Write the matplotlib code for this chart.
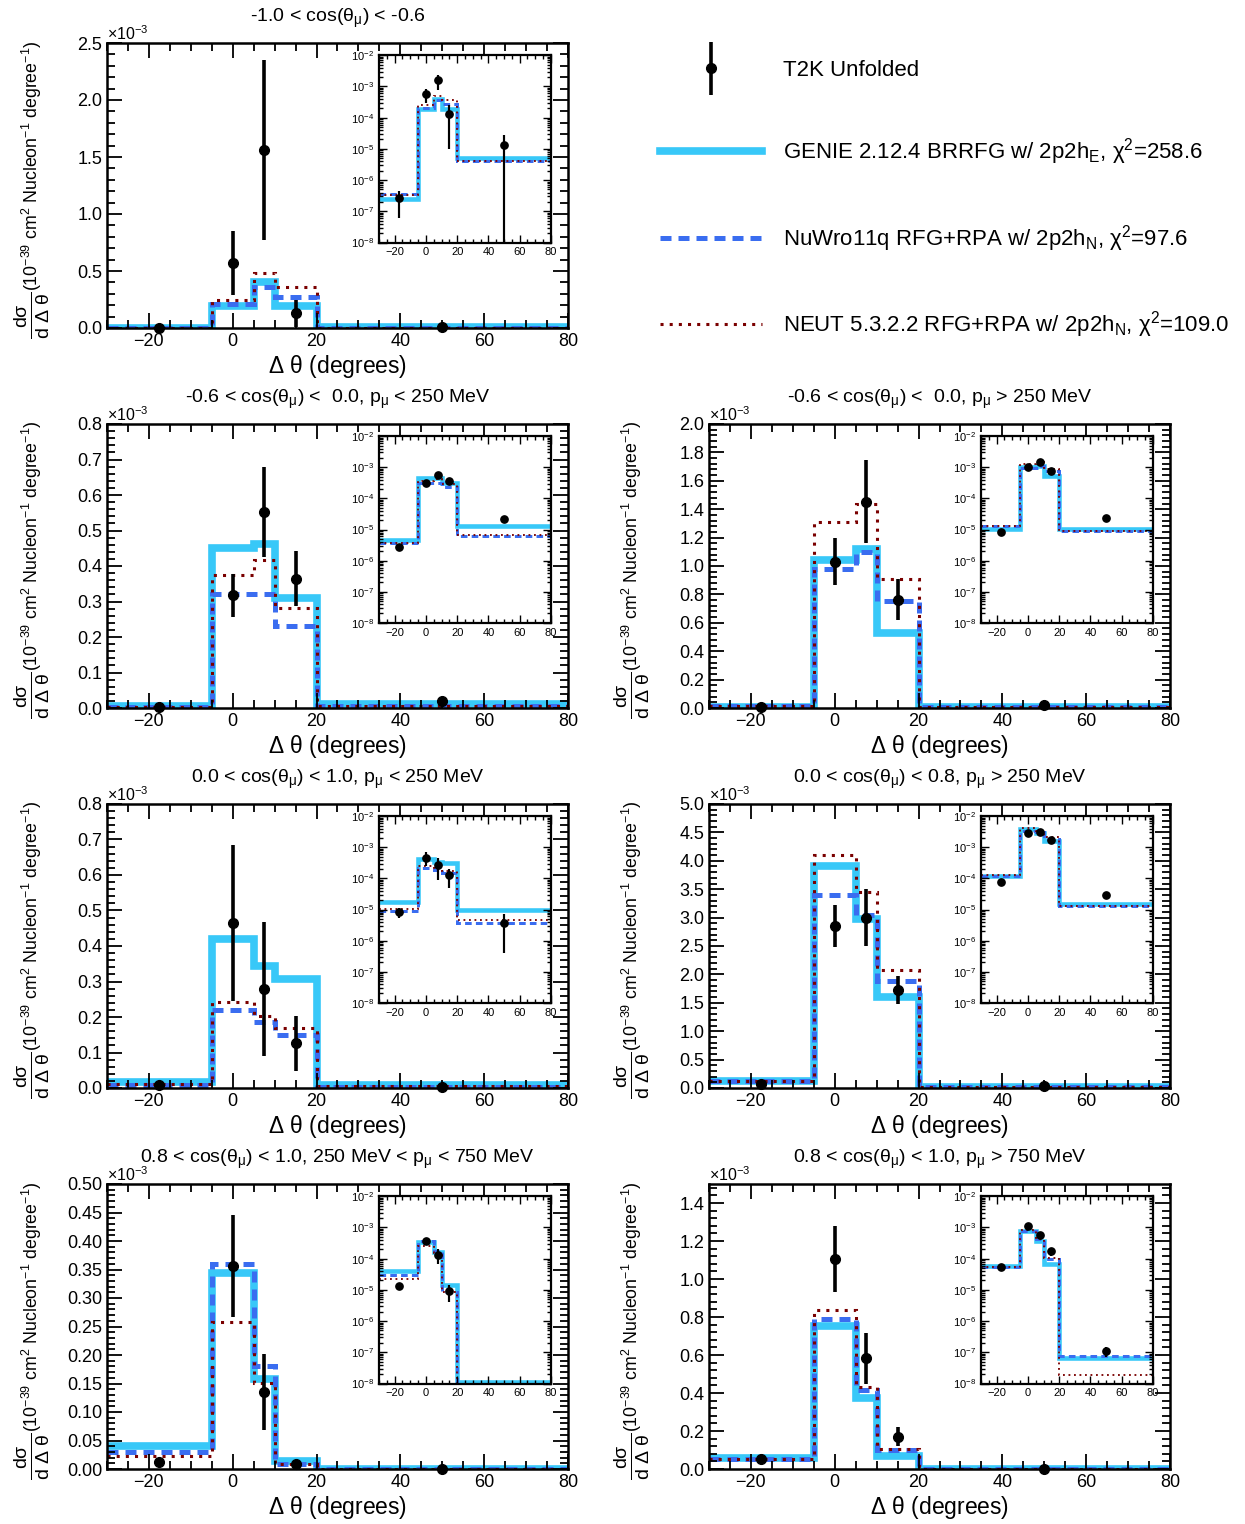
import matplotlib
matplotlib.use('Agg')
import matplotlib.pyplot as plt
from matplotlib.ticker import MultipleLocator, AutoMinorLocator, FormatStrFormatter, LogLocator, NullFormatter
from matplotlib.legend_handler import HandlerErrorbar
import numpy as np

plt.rcParams['font.family'] = ['Liberation Sans', 'DejaVu Sans']
plt.rcParams['mathtext.fontset'] = 'custom'
plt.rcParams['mathtext.rm'] = 'Liberation Sans'
plt.rcParams['mathtext.it'] = 'Liberation Sans:italic'
plt.rcParams['mathtext.bf'] = 'Liberation Sans:bold'
plt.rcParams['mathtext.default'] = 'regular'

# Bin edges and bin centres in delta theta (degrees)
edges = [-30, -5, 5, 10, 20, 80]
centres = [-17.5, 0, 7.5, 15, 50]

# Cross sections in units of 1e-42 cm^2 / nucleon / degree (the "x10^-3" axes)
genie_1 = [0.00025, 0.19, 0.40, 0.19, 0.005]
nuwro_1 = [0.00035, 0.21, 0.36, 0.27, 0.004]
neut_1 = [0.00033, 0.25, 0.48, 0.36, 0.004]
data_1 = [0.00026, 0.57, 1.56, 0.13, 0.013]
err_1 = [0.0002, 0.28, 0.79, 0.12, 0.014]

genie_2 = [0.0045, 0.452, 0.463, 0.309, 0.0126]
nuwro_2 = [0.0036, 0.32, 0.32, 0.23, 0.0064]
neut_2 = [0.0037, 0.375, 0.416, 0.282, 0.0066]
data_2 = [0.0027, 0.317, 0.551, 0.364, 0.021]
err_2 = [0.0003, 0.06, 0.127, 0.078, 0.002]

genie_3 = [0.0105, 1.04, 1.118, 0.525, 0.0105]
nuwro_3 = [0.0126, 0.98, 1.10, 0.753, 0.0089]
neut_3 = [0.0126, 1.313, 1.435, 0.91, 0.0089]
data_3 = [0.0083, 1.03, 1.454, 0.762, 0.023]
err_3 = [0.001, 0.165, 0.29, 0.145, 0.002]

genie_4 = [0.018, 0.419, 0.345, 0.307, 0.0093]
nuwro_4 = [0.0087, 0.22, 0.187, 0.149, 0.0036]
neut_4 = [0.0107, 0.243, 0.203, 0.168, 0.0045]
data_4 = [0.0083, 0.464, 0.279, 0.126, 0.0037]
err_4 = [0.003, 0.22, 0.19, 0.078, 0.0033]

genie_5 = [0.12, 3.91, 2.98, 1.60, 0.0148]
nuwro_5 = [0.12, 3.40, 3.05, 1.88, 0.0126]
neut_5 = [0.125, 4.10, 3.45, 2.08, 0.0126]
data_5 = [0.078, 2.85, 3.0, 1.73, 0.030]
err_5 = [0.005, 0.37, 0.5, 0.25, 0.002]

genie_6 = [0.040, 0.344, 0.158, 0.014, 0.000011]
nuwro_6 = [0.029, 0.36, 0.18, 0.0085, 0.0]
neut_6 = [0.023, 0.258, 0.151, 0.0085, 0.0]
data_6 = [0.013, 0.356, 0.135, 0.009, 0.0]
err_6 = [0.001, 0.09, 0.066, 0.005, 0.0]

genie_7 = [0.06, 0.754, 0.372, 0.068, 0.000065]
nuwro_7 = [0.053, 0.79, 0.416, 0.10, 0.000077]
neut_7 = [0.053, 0.837, 0.43, 0.104, 0.000019]
data_7 = [0.053, 1.105, 0.582, 0.17, 0.00011]
err_7 = [0.003, 0.175, 0.135, 0.05, 0.00004]

titles = [
    r'-1.0 < cos($\theta_{\mu}$) < -0.6',
    r'-0.6 < cos($\theta_{\mu}$) <  0.0, p$_{\mu}$ < 250 MeV',
    r'-0.6 < cos($\theta_{\mu}$) <  0.0, p$_{\mu}$ > 250 MeV',
    r'0.0 < cos($\theta_{\mu}$) < 1.0, p$_{\mu}$ < 250 MeV',
    r'0.0 < cos($\theta_{\mu}$) < 0.8, p$_{\mu}$ > 250 MeV',
    r'0.8 < cos($\theta_{\mu}$) < 1.0, 250 MeV < p$_{\mu}$ < 750 MeV',
    r'0.8 < cos($\theta_{\mu}$) < 1.0, p$_{\mu}$ > 750 MeV',
]
ymaxes = [2.5, 0.8, 2.0, 0.8, 5.0, 0.5, 1.5]
ymajors = [0.5, 0.1, 0.2, 0.1, 0.5, 0.05, 0.2]
yfmts = ['%.1f', '%.1f', '%.1f', '%.1f', '%.1f', '%.2f', '%.1f']

legend_labels = [
    'T2K Unfolded',
    r'GENIE 2.12.4 BRRFG w/ 2p2h$_{E}$, $\chi^{2}$=258.6',
    r'NuWro11q RFG+RPA w/ 2p2h$_{N}$, $\chi^{2}$=97.6',
    r'NEUT 5.3.2.2 RFG+RPA w/ 2p2h$_{N}$, $\chi^{2}$=109.0',
]

panels = [
    (genie_1, nuwro_1, neut_1, data_1, err_1),
    (genie_2, nuwro_2, neut_2, data_2, err_2),
    (genie_3, nuwro_3, neut_3, data_3, err_3),
    (genie_4, nuwro_4, neut_4, data_4, err_4),
    (genie_5, nuwro_5, neut_5, data_5, err_5),
    (genie_6, nuwro_6, neut_6, data_6, err_6),
    (genie_7, nuwro_7, neut_7, data_7, err_7),
]

CYAN = '#38c8f8'
BLUE = '#3a6df0'
MAROON = '#7a0000'

W, H = 1245, 1524
fig = plt.figure(figsize=(W / 100, H / 100), dpi=100)

# axes boxes in pixels: (left, right) and (top, bottom)
col_x = [(107, 568), (709, 1170)]
row_y = [(43, 328), (424, 708), (804, 1088), (1184, 1469)]
slots = [(0, 0), (1, 0), (1, 1), (2, 0), (2, 1), (3, 0), (3, 1)]

yfrac = r'$\frac{d\sigma}{d\ \Delta\ \theta}$'
yunits = r'(10$^{-39}$ cm$^{2}$ Nucleon$^{-1}$ degree$^{-1}$)'


def draw_hists(ax, genie, nuwro, neut, data, err, scale=1.0, inset=False):
    lw = 0.6 if inset else 1.0
    h1 = ax.stairs(np.array(genie) * scale, edges, color=CYAN, lw=5.5 * lw,
                   baseline=None)
    h2 = ax.stairs(np.array(nuwro) * scale, edges, color=BLUE, lw=3.6 * lw,
                   baseline=None, linestyle=(0, (2.2, 1.4)))
    h3 = ax.stairs(np.array(neut) * scale, edges, color=MAROON, lw=2.2 * lw,
                   baseline=None, linestyle=(0, (1, 2)))
    eb = ax.errorbar(centres, np.array(data) * scale,
                     yerr=np.array(err) * scale, fmt='o', color='black',
                     ms=7 * (0.75 if inset else 1.0), elinewidth=2.6 * lw,
                     capsize=0, zorder=5)
    if not inset:
        eb.lines[0].set_clip_on(False)
    return eb, h1, h2, h3


handles = None
for i, (row, col) in enumerate(slots):
    genie, nuwro, neut, data, err = panels[i]
    x0, x1 = col_x[col]
    y0, y1 = row_y[row]
    ax = fig.add_axes([x0 / W, 1 - y1 / H, (x1 - x0) / W, (y1 - y0) / H])
    hs = draw_hists(ax, genie, nuwro, neut, data, err)
    if handles is None:
        handles = list(hs)

    ax.set_xlim(-30, 80)
    ax.set_ylim(0, ymaxes[i])
    ax.xaxis.set_major_locator(MultipleLocator(20))
    ax.xaxis.set_minor_locator(MultipleLocator(5))
    ax.yaxis.set_major_locator(MultipleLocator(ymajors[i]))
    ax.yaxis.set_minor_locator(AutoMinorLocator(5))
    ax.yaxis.set_major_formatter(FormatStrFormatter(yfmts[i]))
    ax.tick_params(which='both', direction='in', top=True, right=True,
                   labelsize=13, width=1.3)
    ax.tick_params(which='major', length=11)
    ax.tick_params(which='minor', length=6)
    for s in ax.spines.values():
        s.set_linewidth(1.8)
    ax.set_title(titles[i], fontsize=14, pad=15)
    ax.set_xlabel(r'$\Delta$ $\theta$ (degrees)', fontsize=16.5, labelpad=2)
    xl = -0.163 if col == 0 else -0.167
    ax.text(xl, -0.04, yfrac, rotation=90, fontsize=20, ha='center',
            va='bottom', transform=ax.transAxes)
    ax.text(xl, 0.13, yunits, rotation=90, fontsize=12.8, ha='center',
            va='bottom', transform=ax.transAxes)
    ax.text(0, 1.0, r'$\times$10$^{-3}$', transform=ax.transAxes,
            ha='left', va='bottom', fontsize=11.5)

    # log-scale inset
    ins = ax.inset_axes([0.59, 0.30, 0.373, 0.657])
    draw_hists(ins, genie, nuwro, neut, data, err, scale=1e-3, inset=True)
    ins.set_yscale('log')
    ins.set_xlim(-30, 80)
    ins.set_ylim(1e-8, 1e-2)
    ins.xaxis.set_major_locator(MultipleLocator(20))
    ins.xaxis.set_minor_locator(MultipleLocator(5))
    ins.yaxis.set_major_locator(LogLocator(base=10, numticks=10))
    ins.yaxis.set_minor_locator(LogLocator(base=10, subs=np.arange(2, 10), numticks=10))
    ins.yaxis.set_minor_formatter(NullFormatter())
    ins.tick_params(which='both', direction='in', top=True, right=True,
                    labelsize=8, width=1.0)
    ins.tick_params(which='major', length=6)
    ins.tick_params(which='minor', length=3)
    for s in ins.spines.values():
        s.set_linewidth(1.6)

fig.legend(handles, legend_labels, loc='upper left',
           bbox_to_anchor=(660 / W, 1 - 60 / H), frameon=False,
           fontsize=16, handlelength=4.6, handletextpad=0.95,
           labelspacing=2.5, borderpad=0, borderaxespad=0,
           handler_map={handles[0]: HandlerErrorbar(yerr_size=1.2)})

fig.savefig('out.png', dpi=100)
